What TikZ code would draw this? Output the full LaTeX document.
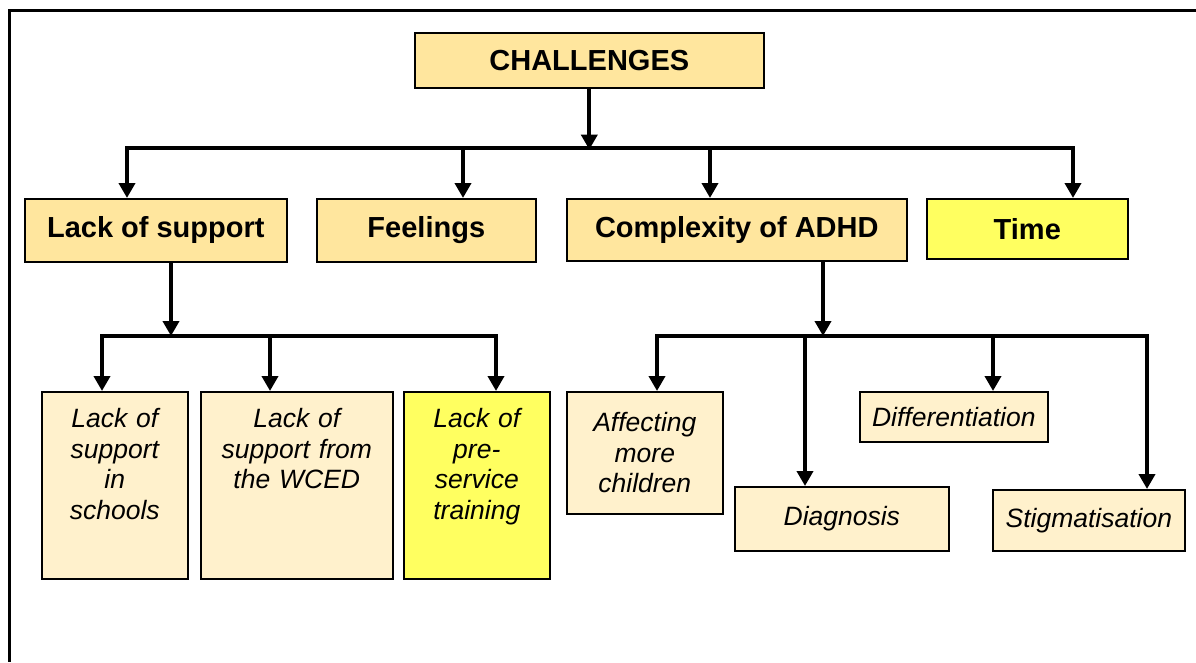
\documentclass[tikz,border=0pt]{standalone}
\usepackage{fontspec}
\setmainfont{Liberation Sans}
\usepackage{xcolor}
\usepackage{tikz}
\usetikzlibrary{arrows.meta,positioning}
\definecolor{chalfill}{RGB}{255,230,158}
\definecolor{subfill}{RGB}{255,241,204}
\definecolor{hilite}{RGB}{255,255,96}
\tikzset{
  headbox/.style={draw, line width=1.6pt, fill=chalfill, anchor=north west, inner sep=0pt, font=\fontsize{29}{34}\selectfont\bfseries},
  leafbox/.style={draw, line width=1.6pt, fill=subfill, anchor=north west, inner sep=0pt, align=center, font=\fontsize{26.5}{30.5}\selectfont\itshape},
  tallleaf/.style={leafbox, text height=36pt, text depth=151pt},
  joinline/.style={line width=4pt, line cap=rect},
  droparrow/.style={-{Triangle[length=15pt,width=16pt]}, line width=4pt},
}

\begin{document}
\begin{tikzpicture}[x=1pt, y=-1pt]
  \useasboundingbox (0,0) rectangle (1196,662);
  % Frame (top and left edges only)
  \draw[line width=3pt] (1196,10.5) -- (9.5,10.5) -- (9.5,662);

  % Top: main heading
  \node[headbox, minimum width=349pt, minimum height=55pt] (chal) at (414,32) {CHALLENGES};

  % Level 1
  \node[headbox, minimum width=262pt, minimum height=63pt] (lack) at (24,198) {Lack of support};
  \node[headbox, minimum width=219pt, minimum height=63pt] (feel) at (316,198) {Feelings};
  \node[headbox, minimum width=340pt, minimum height=62pt] (cplx) at (566,198) {Complexity of ADHD};
  \node[headbox, fill=hilite, minimum width=201pt, minimum height=60pt] (time) at (926,198) {Time};

  % Level 2, support branch
  \node[tallleaf, text width=146pt] (school) at (41,391) {Lack of\\support\\in\\schools};
  \node[tallleaf, text width=192pt] (wced) at (200,391) {Lack of\\support from\\the WCED};
  \node[tallleaf, fill=hilite, text width=146pt] (presvc) at (403,391) {Lack of\\pre-\\service\\training};

  % Level 2, ADHD branch
  \node[leafbox, text width=156pt, minimum height=122pt] (affect) at (566,391) {Affecting\\more\\children};
  \node[leafbox, text width=214pt, minimum height=64pt] (diag) at (734,486) {Diagnosis};
  \node[leafbox, text width=188pt, minimum height=50pt] (diffr) at (859,391) {Differentiation};
  \node[leafbox, text width=192pt, minimum height=61pt] (stig) at (992,489) {Stigmatisation};

  % Bar under the heading
  \path (chal.south) ++(0,61) coordinate (hub);
  \coordinate (t1) at (127,148);
  \coordinate (t2) at (463,148);
  \coordinate (t3) at (710,148);
  \coordinate (t4) at (1073,148);
  \draw[droparrow] (chal.south) -- (hub);
  \draw[joinline] (t1) -- (t4);
  \draw[droparrow] (t1) -- (t1 |- lack.north);
  \draw[droparrow] (t2) -- (t2 |- feel.north);
  \draw[droparrow] (t3) -- (t3 |- cplx.north);
  \draw[droparrow] (t4) -- (t4 |- time.north);

  % Bar under Lack of support
  \coordinate (h2) at (171,336);
  \coordinate (s1) at (102,336);
  \coordinate (s2) at (270,336);
  \coordinate (s3) at (496,336);
  \draw[droparrow] (h2 |- lack.south) -- (h2);
  \draw[joinline] (s1) -- (s3);
  \draw[droparrow] (s1) -- (s1 |- school.north);
  \draw[droparrow] (s2) -- (s2 |- wced.north);
  \draw[droparrow] (s3) -- (s3 |- presvc.north);

  % Bar under Complexity of ADHD
  \coordinate (h3) at (823,336);
  \coordinate (c1) at (657,336);
  \coordinate (c2) at (805,336);
  \coordinate (c3) at (993,336);
  \coordinate (c4) at (1147,336);
  \draw[droparrow] (h3 |- cplx.south) -- (h3);
  \draw[joinline] (c1) -- (c4);
  \draw[droparrow] (c1) -- (c1 |- affect.north);
  \draw[droparrow] (c2) -- (c2 |- diag.north);
  \draw[droparrow] (c3) -- (c3 |- diffr.north);
  \draw[droparrow] (c4) -- (c4 |- stig.north);
\end{tikzpicture}
\end{document}
